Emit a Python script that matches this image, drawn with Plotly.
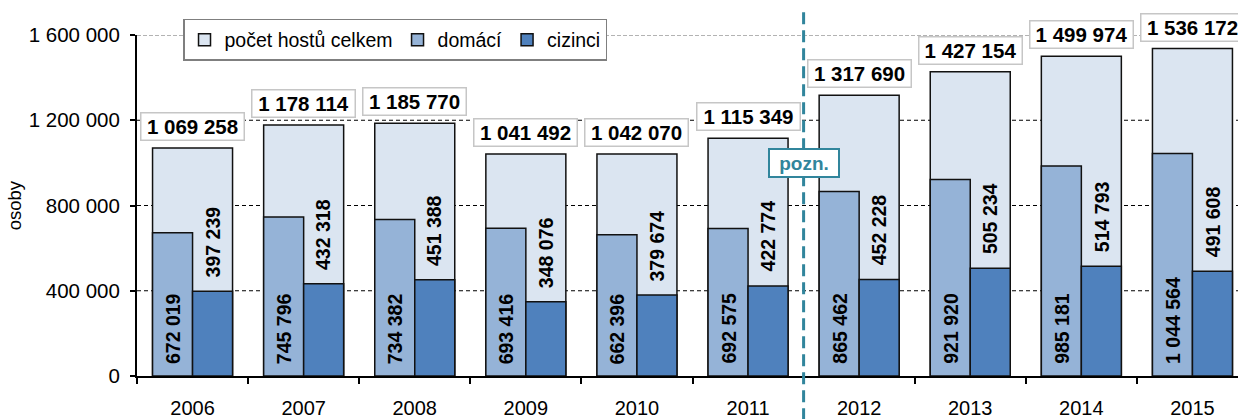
import plotly.graph_objects as go

# Guests in accommodation establishments, 2006-2015
years = ["2006", "2007", "2008", "2009", "2010", "2011", "2012", "2013", "2014", "2015"]
total = [1069258, 1178114, 1185770, 1041492, 1042070, 1115349, 1317690, 1427154, 1499974, 1536172]
domestic = [672019, 745796, 734382, 693416, 662396, 692575, 865462, 921920, 985181, 1044564]
foreign = [397239, 432318, 451388, 348076, 379674, 422774, 452228, 505234, 514793, 491608]

y_ticks = [0, 400000, 800000, 1200000, 1600000]
y_tick_labels = ["0", "400 000", "800 000", "1 200 000", "1 600 000"]

FONT = "Liberation Sans, Arial, sans-serif"
C_TOTAL = "#dbe5f1"
C_DOM = "#95b3d7"
C_FOR = "#4f81bd"
C_NOTE = "#31859c"
OUTLINE = dict(color="#111111", width=1.5)


def fmt(v):
    return f"{v:,}".replace(",", " ")


fig = go.Figure()
fig.add_bar(name="počet hostů celkem", x=years, y=total, width=0.72, offset=-0.36,
            marker=dict(color=C_TOTAL, line=OUTLINE))
fig.add_bar(name="domácí", x=years, y=domestic, width=0.36, offset=-0.36,
            marker=dict(color=C_DOM, line=OUTLINE))
fig.add_bar(name="cizinci", x=years, y=foreign, width=0.36, offset=0.0,
            marker=dict(color=C_FOR, line=OUTLINE))

annotations = []
for i, (t, d, f) in enumerate(zip(total, domestic, foreign)):
    # boxed total above the wide bar
    annotations.append(dict(
        x=i, y=t, xref="x", yref="y", yanchor="bottom", yshift=7,
        text=f"<b>{fmt(t)}</b>", showarrow=False, width=98, height=22,
        font=dict(size=20.5, family=FONT, color="black"),
        bgcolor="white", bordercolor="#c6c6c6", borderwidth=1.5, borderpad=2))
    # domestic value, vertical, at the foot of its bar
    annotations.append(dict(
        x=i - 0.18, y=0, xref="x", yref="y", yanchor="bottom", yshift=10,
        text=f"<b>{fmt(d)}</b>", showarrow=False, textangle=-90,
        font=dict(size=19.5, family=FONT, color="black")))
    # foreign value, vertical, just above its bar
    annotations.append(dict(
        x=i + 0.18, y=f, xref="x", yref="y", yanchor="bottom", yshift=12,
        text=f"<b>{fmt(f)}</b>", showarrow=False, textangle=-90,
        font=dict(size=19.5, family=FONT, color="black")))

# methodological break note
annotations.append(dict(
    x=5.5, y=1000000, xref="x", yref="y", yanchor="middle",
    text="<b>pozn.</b>", showarrow=False, width=64, height=22,
    font=dict(size=19, family=FONT, color=C_NOTE),
    bgcolor="white", bordercolor=C_NOTE, borderwidth=2, borderpad=2))

# y axis title
annotations.append(dict(
    x=-0.111, y=0.5, xref="paper", yref="paper", xanchor="center", yanchor="middle",
    text="osoby", showarrow=False, textangle=-90,
    font=dict(size=18.5, family=FONT, color="black")))

shapes = []
for v in y_ticks[1:]:
    top = v == y_ticks[-1]
    shapes.append(dict(
        type="line", xref="paper", yref="y", x0=0, x1=1, y0=v, y1=v, layer="below",
        line=dict(color="#9a9a9a" if top else "black", width=1.5 if top else 1.2,
                  dash="4px,2px" if top else "4px,3px")))

shapes.append(dict(
    type="line", xref="x", yref="paper", x0=5.5, x1=5.5, y0=-0.13, y1=1.08,
    layer="above", line=dict(color=C_NOTE, width=3, dash="12px,6px")))

fig.update_layout(
    width=1238, height=419,
    margin=dict(l=137, r=0, t=35, b=43),
    paper_bgcolor="white", plot_bgcolor="white",
    font=dict(family=FONT, color="black", size=20),
    barmode="overlay",
    showlegend=True,
    legend=dict(
        orientation="h", x=0.0418, y=1.047, xanchor="left", yanchor="top",
        bgcolor="white", bordercolor="#7f7f7f", borderwidth=1.5,
        font=dict(size=19.5, family=FONT, color="black"), itemwidth=30,
        traceorder="normal"),
    annotations=annotations,
    shapes=shapes,
    xaxis=dict(
        type="category", range=[-0.5, 9.41], tickson="boundaries",
        ticks="outside", ticklen=6, tickwidth=1.5, tickcolor="black",
        showline=True, linecolor="black", linewidth=2, showgrid=False,
        tickfont=dict(size=20, family=FONT), ticklabelstandoff=13),
    yaxis=dict(
        range=[0, 1600000], tickvals=y_ticks, ticktext=y_tick_labels,
        ticks="outside", ticklen=5, tickwidth=1.5, tickcolor="black",
        showline=True, linecolor="black", linewidth=2, showgrid=False, zeroline=False,
        tickfont=dict(size=20.5, family=FONT), ticklabelstandoff=6),
)

fig.write_html("out.html")
